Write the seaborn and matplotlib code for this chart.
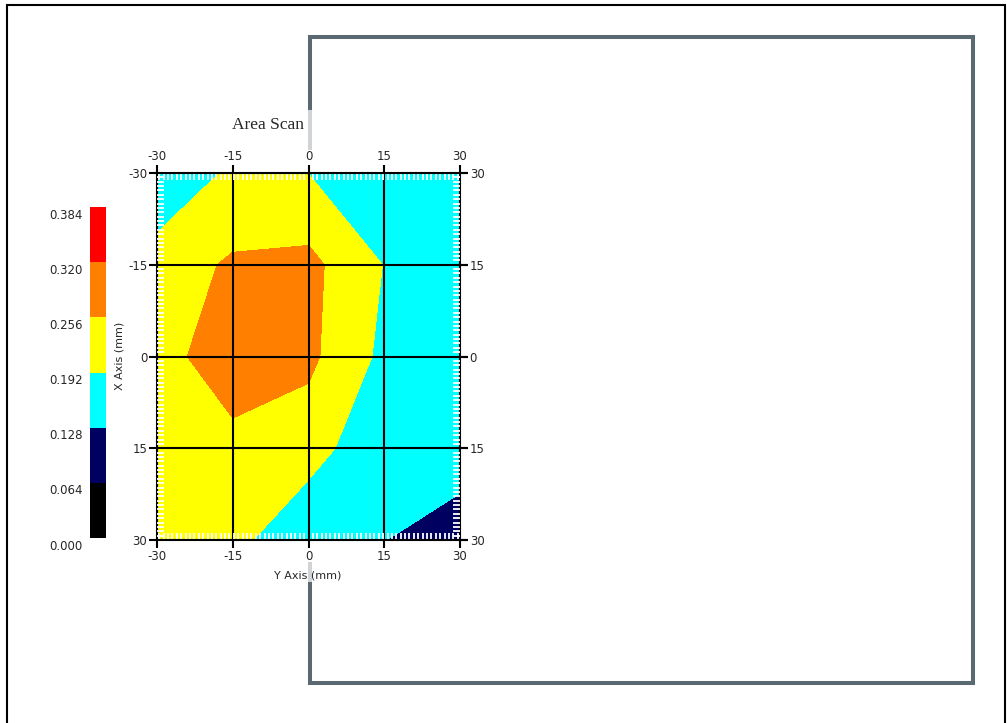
import numpy as np
import matplotlib
matplotlib.use("Agg")
import matplotlib.pyplot as plt
import seaborn as sns
from matplotlib.patches import Rectangle
from matplotlib.ticker import MultipleLocator

sns.set_style("white")
plt.rcParams['font.family'] = ['DejaVu Sans']
plt.rcParams['axes.unicode_minus'] = False

# scan grid (mm)
y_axis_mm = [-30, -15, 0, 15, 30]   # horizontal
x_axis_mm = [-30, -15, 0, 15, 30]   # vertical

# measured values, one row per X position
row_m30 = [0.130, 0.205, 0.191, 0.160, 0.1275]
row_m15 = [0.225, 0.264, 0.2733, 0.190, 0.150]
row_0 = [0.2147, 0.318, 0.270, 0.177, 0.150]
row_p15 = [0.215, 0.2255, 0.2217, 0.137, 0.1453]
row_p30 = [0.210, 0.213, 0.135, 0.1286, 0.110]

levels = [0.000, 0.064, 0.128, 0.192, 0.256, 0.320, 0.384]
level_labels = ['0.000', '0.064', '0.128', '0.192', '0.256', '0.320', '0.384']
band_colors = ['#000000', '#000060', '#00ffff', '#ffff00', '#ff8000', '#ff0000']

tick_vals = [-30, -15, 0, 15, 30]
right_labels = ['30', '15', '0', '15', '30']

Z = np.array([row_m30, row_m15, row_0, row_p15, row_p30])

W, H = 1007, 723
fig = plt.figure(figsize=(W / 100, H / 100), dpi=100)


def px(x0, y0, x1, y1):
    return [x0 / W, 1 - y1 / H, (x1 - x0) / W, (y1 - y0) / H]


def frect(x0, y0, x1, y1, **kw):
    b = px(x0, y0, x1, y1)
    r = Rectangle((b[0], b[1]), b[2], b[3], transform=fig.transFigure, **kw)
    fig.add_artist(r)
    return r


# outer frame and the grey panel behind the chart
frect(7, 5, 1005, 760, fill=False, ec='black', lw=1.5, zorder=-3, clip_on=False)
frect(309.5, 37, 972.5, 683, fill=False, ec='#5a6872', lw=2.9, zorder=-3)
frect(125, 110, 500, 582, fc='white', ec='none', alpha=0.72, zorder=-2)
frect(130, 150, 490, 562, fc='white', ec='none', zorder=-1)

# contour map
ax = fig.add_axes(px(157, 173, 460, 540))
cs = ax.contourf(y_axis_mm, x_axis_mm, Z, levels=levels, colors=band_colors)
ax.set_xlim(-30, 30)
ax.set_ylim(30, -30)
ax.set_xticks(tick_vals)
ax.set_yticks(tick_vals)
ax.set_axisbelow(False)
ax.grid(True, which='major', color='black', lw=1.5)
ax.xaxis.set_minor_locator(MultipleLocator(60 / 69))
ax.yaxis.set_minor_locator(MultipleLocator(60 / 84))
ax.tick_params(which='major', direction='out', length=6, width=1.5, color='black',
               top=True, bottom=True, left=True, right=True,
               labeltop=True, labelbottom=True, labelleft=True, labelright=False,
               labelsize=8.5, pad=1)
ax.tick_params(which='minor', direction='in', length=5, width=1.3, color='white',
               top=True, bottom=True, left=True, right=True)
for s in ax.spines.values():
    s.set_color('black')
    s.set_linewidth(1.5)

secax = ax.secondary_yaxis('right')
secax.set_yticks(tick_vals, labels=right_labels)
secax.tick_params(direction='out', length=6, width=1.5, color='black', labelsize=8.5, pad=1)
secax.spines['right'].set_visible(False)

fig.text(232 / W, 1 - 125 / H, 'Area Scan', family='Liberation Serif', fontsize=12.5,
         ha='left', va='center')
fig.text(120 / W, 1 - 356 / H, 'X Axis (mm)', rotation=90, fontsize=8, ha='center', va='center')
fig.text(308 / W, 1 - 575 / H, 'Y Axis (mm)', fontsize=8, ha='center', va='center')

# colour scale
cax = fig.add_axes(px(90, 207, 106, 538))
cb = fig.colorbar(cs, cax=cax)
cb.outline.set_visible(False)
cax.set_yticks([])
top = levels[-1]
for lv, lab in zip(levels, level_labels):
    cax.text(-0.45, lv / top - 8 / 331, lab, transform=cax.transAxes,
             ha='right', va='center', fontsize=8.5, clip_on=False)

fig.savefig('out.png', dpi=100)
